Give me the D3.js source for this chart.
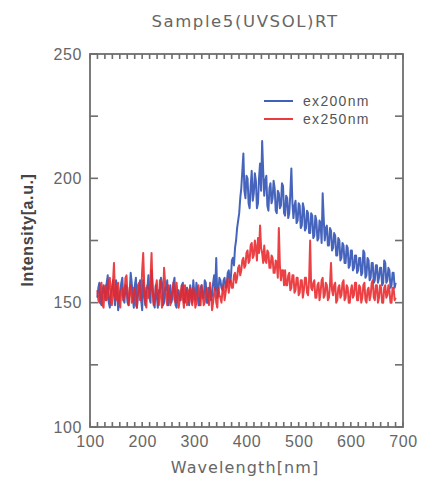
<!DOCTYPE html>
<html><head><meta charset="utf-8">
<script src="https://cdn.jsdelivr.net/npm/d3@7"></script>
<style>body{margin:0;background:#fff}svg{display:block}</style>
</head><body>
<script>
const title = "Sample5(UVSOL)RT";
const xLabel = "Wavelength[nm]";
const yLabel = "Intensity[a.u.]";
const seriesNames = ["ex200nm", "ex250nm"];
const xTicks = [100, 200, 300, 400, 500, 600, 700];
const yTicks = [100, 150, 200, 250];
const yMinorTicks = [125, 175, 225];
const wavelengthStart = 114, wavelengthStep = 2;
const ex200 = [
152,156,158,150,149,155,157,153,151,158,161,150,148,154,156,159,153,149,159,155,
147,152,155,158,160,151,150,157,156,150,149,154,162,158,152,148,157,160,148,153,
155,159,151,147,159,154,149,156,156,161,152,150,163,157,150,148,157,153,148,155,
154,160,158,149,150,156,155,159,149,153,157,150,152,158,160,149,148,155,155,151,
151,157,158,150,150,155,156,152,149,157,154,150,159,154,151,158,155,149,149,156,
157,152,152,159,158,150,150,156,156,151,153,158,161,155,168,152,154,160,159,156,
155,159,160,156,157,162,163,158,160,167,168,165,172,175,180,183,186,192,196,203,
210,195,192,201,200,190,188,197,203,191,194,202,199,188,190,200,206,195,215,203,
193,199,201,189,187,196,198,190,192,199,196,187,186,195,194,188,189,198,197,186,
185,193,192,184,186,194,204,190,184,189,191,182,183,190,189,180,181,190,188,179,
180,187,186,178,178,186,185,176,177,185,183,175,176,183,182,174,194,184,175,180,
181,173,173,180,179,171,172,178,177,169,169,176,175,167,168,174,173,166,166,173,
172,164,165,171,171,163,164,169,169,162,163,168,168,161,162,171,170,160,161,168,
167,159,160,166,166,158,159,165,165,158,160,164,164,157,158,167,166,158,159,164,
163,156,157,162,162,156,158];
const ex250 = [
155,151,150,157,158,149,148,156,157,151,152,159,160,150,149,158,166,152,151,157,
158,150,148,155,156,151,153,160,161,152,149,156,157,150,151,156,155,149,148,157,
158,151,152,163,170,157,150,148,157,152,153,160,170,155,149,151,156,159,151,149,
159,153,148,151,164,158,152,149,157,154,149,152,155,158,151,150,158,153,148,151,
154,157,152,148,157,154,149,151,155,156,151,149,156,153,148,150,154,157,152,149,
157,153,149,150,155,156,151,149,158,154,147,150,154,156,150,148,156,153,152,150,
155,157,151,154,157,160,154,158,159,156,156,161,162,158,160,164,165,161,163,167,
168,164,165,170,171,166,167,173,174,168,169,175,172,167,176,170,181,172,170,166,
173,167,166,171,170,164,164,169,168,162,162,167,166,160,180,165,159,163,163,157,
163,157,157,161,162,155,156,161,161,154,155,160,160,153,154,159,159,152,155,160,
160,154,153,159,175,156,155,158,159,152,152,157,158,151,154,159,160,152,153,158,
157,151,152,157,166,155,153,157,158,150,151,156,157,152,153,158,159,151,152,157,
156,150,150,155,157,152,153,158,158,151,151,157,156,150,152,157,158,151,150,155,
156,151,153,158,159,152,151,157,157,150,152,157,156,150,150,156,157,152,153,157,
155,150,150,156,156,151,152];
const colors = ["#2c4fb3", "#e8262a"];

const W = 422, H = 483;
const L = 90, R = 403, T = 54, B = 427;
const FONT = "'Liberation Sans', Arial, sans-serif";
const svg = d3.select("body").append("svg").attr("width", W).attr("height", H)
  .style("font-family", FONT);

const x = d3.scaleLinear().domain([100, 700]).range([L, R]);
const y = d3.scaleLinear().domain([100, 250]).range([B, T]);

const series = [ex200, ex250].map((vals, k) => ({
  name: seriesNames[k], color: colors[k],
  pts: vals.map((v, i) => [wavelengthStart + i * wavelengthStep, v])
}));

const line = d3.line().x(d => x(d[0])).y(d => y(d[1]));
svg.append("g").selectAll("path").data(series).join("path")
  .attr("d", d => line(d.pts)).attr("fill", "none")
  .attr("stroke", d => d.color).attr("stroke-width", 2)
  .attr("stroke-linejoin", "round").attr("opacity", 0.88);

const axisColor = "#6e6e6e";
const xMinor = d3.range(0, 43).map(k => 100 + k * 100 / 7);
const yAll = yTicks.concat(yMinorTicks);
const tickG = svg.append("g").attr("fill", axisColor);
tickG.selectAll(".tb").data(xMinor).join("rect").attr("class", "tb")
  .attr("x", d => x(d) - 0.8).attr("y", B - 5).attr("width", 1.6).attr("height", 5);
tickG.selectAll(".tt").data(xMinor).join("rect").attr("class", "tt")
  .attr("x", d => x(d) - 0.8).attr("y", T).attr("width", 1.6).attr("height", 5);
tickG.selectAll(".tl").data(yAll).join("rect").attr("class", "tl")
  .attr("x", L).attr("y", d => y(d) - 0.8).attr("width", 8).attr("height", 1.6);
tickG.selectAll(".tr").data(yAll).join("rect").attr("class", "tr")
  .attr("x", R - 8).attr("y", d => y(d) - 0.8).attr("width", 8).attr("height", 1.6);

// frame
svg.append("rect").attr("x", L).attr("y", T).attr("width", R - L).attr("height", B - T)
  .attr("fill", "none").attr("stroke", axisColor).attr("stroke-width", 1.8);

const xl = svg.append("g").attr("transform", `translate(0,${B})`)
  .call(d3.axisBottom(x).tickValues(xTicks).tickSize(0).tickPadding(9));
const yl = svg.append("g").attr("transform", `translate(${L},0)`)
  .call(d3.axisLeft(y).tickValues(yTicks).tickSize(0).tickPadding(8));
[xl, yl].forEach(g => {
  g.select(".domain").remove();
  g.selectAll("text").attr("fill", "#666").attr("font-size", 16)
    .attr("letter-spacing", 0.6).style("font-family", FONT);
});

svg.append("text").attr("x", 245).attr("y", 27).attr("text-anchor", "middle")
  .attr("font-size", 16.5).attr("letter-spacing", 1.6).attr("fill", "#666")
  .style("font-family", "'DejaVu Sans', sans-serif").text(title);
svg.append("text").attr("x", 245).attr("y", 473).attr("text-anchor", "middle")
  .attr("font-size", 16).attr("letter-spacing", 1.1).attr("fill", "#666")
  .style("font-family", "'DejaVu Sans', sans-serif").text(xLabel);
svg.append("text").attr("transform", `translate(33,${230}) rotate(-90)`).attr("text-anchor", "middle")
  .attr("font-size", 16).attr("font-weight", "bold").attr("letter-spacing", 0.6).attr("fill", "#444").text(yLabel);

// legend
const lg = svg.append("g").selectAll("g").data(series).join("g")
  .attr("transform", (d, i) => `translate(264,${101 + i * 18})`);
lg.append("line").attr("x1", 0).attr("x2", 29).attr("stroke", d => d.color).attr("stroke-width", 1.8);
lg.append("text").attr("x", 39).attr("dy", "0.35em").attr("font-size", 14)
  .attr("letter-spacing", 1.3).attr("fill", "#555").text(d => d.name);
</script>
</body></html>
